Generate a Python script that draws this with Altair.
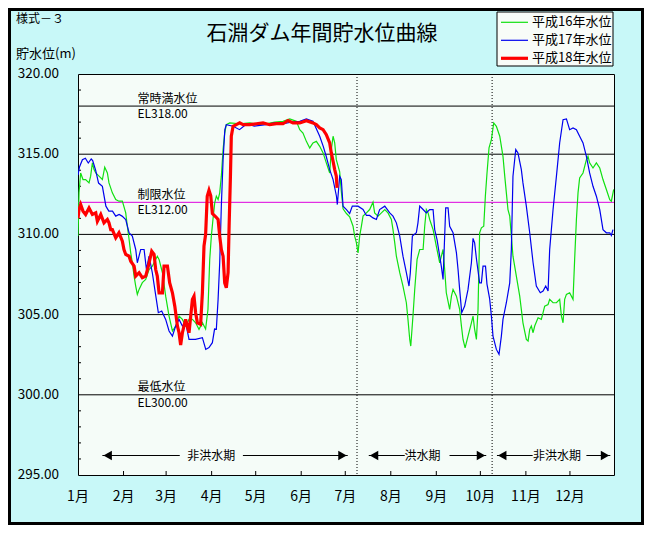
import altair as alt
import pandas as pd

FONT = "Noto Sans CJK JP"

# ---------------- data ----------------
series_names = ["平成16年水位", "平成17年水位", "平成18年水位"]
series_colors = ["#10E010", "#0000EE", "#FF0000"]
series_widths = [1.2, 1.2, 3.2]

h16_day = [0, 0.7, 1.8, 3.4, 5.2, 7.5, 8.6, 9.8, 10.9, 12.1, 14.3, 16.6, 18.2, 20, 21.1, 23.4, 25.7, 27.9,
           30.2, 32.5, 33.6, 34.8, 35.9, 37, 38.2, 39.3, 40.4, 41.6, 43.8, 46.1, 48.4, 50.6, 54, 55.2, 57.5,
           59.7, 62, 64.3, 66.5, 68.8, 71.1, 73.3, 75.6, 77.9, 80.1, 82.4, 84.7, 86.9, 88.5, 89.7, 90.8, 91.9,
           93.1, 94.2, 95.4, 96.5, 97.6, 98.8, 99.9, 101, 103.3, 110, 117, 123, 128, 134, 139.6, 144.2, 148.7,
           151, 153.2, 155.5, 157.8, 160, 162.3, 164.6, 166.9, 169.1, 171.4, 172.5, 173.7, 174.8, 175.9, 178.2,
           179.3, 180.5, 182.8, 185, 187.3, 188.4, 189.6, 190.7, 191.8, 193, 194.1, 196.4, 198.6, 200.9, 202,
           204.3, 206.6, 208.9, 211.1, 213.4, 214.5, 215.7, 216.8, 219.1, 221.3, 223.6, 224.7, 225.9, 226.6,
           228.1, 229.3, 230.9, 232.7, 235, 236.1, 237.2, 238.4, 239.5, 241.8, 244, 246.3, 248.6, 249.7, 250.8,
           253.1, 254.3, 255.4, 257.7, 259.9, 261.1, 262.2, 263.6, 265.6, 267.9, 269, 270.1, 271.3, 272.4,
           273.5, 274.7, 276.3, 277.4, 278.5, 279.9, 281.5, 283.1, 284.9, 287.2, 289.4, 290.6, 291.7, 292.8,
           294, 295.1, 296.2, 298.5, 300.8, 303, 305.3, 306.5, 307.6, 308.7, 309.9, 311, 313.3, 315.5, 316.7,
           317.8, 320.1, 321.2, 323.5, 325.8, 328, 329.2, 330.3, 331.4, 332.6, 334.8, 337.1, 338.2, 339.4,
           340.5, 341.6, 343.9, 346.2, 347.3, 348.4, 350.7, 353, 355.3, 357.5, 359.8, 362.1, 363.2, 364.8]
h16_level = [309.9, 312.6, 313.83, 313.42, 313.42, 313.21, 313.63, 314.46, 314.04, 313.83, 313.63, 313.42,
             314.19, 313.83, 313.21, 312.59, 312.17, 312.07, 312.07, 311.34, 310.51, 309.68, 308.85, 308.23,
             307.4, 306.78, 306.26, 306.57, 306.99, 307.19, 307.81, 308.02, 308.64, 308.44, 307.61, 306.15,
             304.91, 303.98, 304.29, 304.91, 304.7, 304.29, 304.7, 304.7, 304.49, 304.08, 304.5, 304.1, 305.32,
             308.44, 309.89, 310.93, 311.96, 312.38, 312.17, 312.59, 313.63, 315.29, 316.32, 316.84, 316.95,
             316.9, 316.95, 316.85, 316.9, 317.0, 317.05, 317.2, 317.05, 316.53, 316.32, 315.8, 315.39, 315.7,
             315.8, 315.49, 315.08, 314.46, 313.83, 315.29, 316.12, 315.7, 314.66, 313.9, 312.7, 311.6, 311.3,
             311.1, 310.51, 309.89, 309.47, 308.85, 309.89, 310.51, 311.14, 311.34, 311.55, 312.01, 311.34,
             311.14, 311.34, 311.55, 311.34, 310.93, 310.3, 309.47, 308.64, 307.61, 306.78, 305.74, 304.7,
             303.45, 303.04, 304.91, 306.57, 308.44, 309.06, 309.06, 310.51, 311.55, 311.34, 310.93, 310.3,
             309.27, 308.23, 309.06, 307.81, 306.36, 305.32, 306.15, 306.57, 306.15, 305.32, 304.29, 303.45,
             302.93, 303.66, 304.49, 304.91, 304.08, 303.45, 305.32, 310.1, 310.41, 310.51, 312.38, 313.8,
             315.4, 315.91, 316.95, 316.74, 316.12, 314.87, 313.63, 312.59, 311.55, 311.14, 309.89, 308.64,
             307.4, 306.15, 304.49, 303.45, 303.35, 304.08, 304.29, 303.87, 304.29, 304.8, 304.7, 305.12,
             305.53, 305.63, 305.95, 305.74, 305.74, 305.95, 304.91, 304.49, 305.95, 306.26, 306.36, 305.95,
             308.44, 310.93, 312.59, 313.52, 313.83, 314.66, 314.87, 314.46, 314.14, 314.46, 314.14, 313.42,
             312.8, 312.17, 312.07, 312.8]

h17_day = [0, 1, 3, 5, 7, 9, 10, 12, 13, 14, 16.6, 19, 21, 23.5, 25.7, 28, 30, 32.5, 34.8, 37, 39.3, 40.4,
           42.7, 45, 46.6, 48.4, 50.6, 53, 54.7, 57, 59.7, 62, 64.3, 66.5, 68.8, 71.1, 73.3, 75.6, 80, 84.7,
           87, 89.2, 91.5, 93, 94.2, 95.4, 96.5, 97.6, 98.8, 100, 101, 105.6, 110, 115, 120, 128, 134, 140,
           145, 151, 155.5, 160, 164.6, 167, 169, 171.4, 173.7, 176, 176.6, 178.2, 179.3, 180.5, 182.8, 185,
           186.8, 190.7, 194.1, 196.4, 198.6, 200.9, 203.2, 205.4, 208.9, 212.3, 214.5, 216.8, 219.1, 221.3,
           223.6, 225.4, 226.3, 227.7, 230.4, 231.5, 232.7, 235, 237.2, 239.5, 241.8, 242.9, 244.5, 246.3,
           247.4, 248.6, 250.4, 252, 253.1, 255.4, 257.7, 258.8, 259.9, 261.3, 263.3, 265.6, 267.9, 269,
           270.1, 271.3, 273.5, 274.7, 275.8, 277.5, 278.5, 280.3, 281.5, 282.6, 284.9, 286.7, 288.3, 289.4,
           291.7, 294, 295.1, 296.2, 298.1, 299.6, 301.9, 303, 305.3, 307.6, 309.9, 312.1, 314.8, 316.7,
           318.5, 320.1, 321.2, 323.5, 325.8, 328, 330.3, 332.6, 334.8, 337.1, 339.4, 341.6, 343.9, 346.2,
           348.4, 350.7, 353, 355.3, 357.5, 359.8, 362.1, 363.2, 364.3]
h17_level = [313.7, 314.2, 314.66, 314.75, 314.45, 314.7, 314.6, 314.0, 313.6, 313.2, 313.0, 311.76, 311.45,
             311.45, 311.14, 311.24, 311.14, 310.93, 310.1, 309.89, 309.06, 308.23, 309.06, 309.06, 307.81,
             308.64, 307.61, 306.15, 305.12, 305.22, 304.7, 303.98, 303.66, 304.29, 304.7, 304.29, 304.49,
             303.46, 303.46, 303.56, 302.83, 302.94, 303.25, 304.1, 304.08, 305.95, 308.23, 311.76, 314.66,
             316.53, 316.84, 316.74, 316.53, 316.9, 316.75, 316.84, 316.95, 316.9, 317.0, 317.05, 317.2,
             317.05, 316.12, 315.49, 314.87, 314.04, 313.42, 312.38, 311.86, 313.63, 313.42, 311.76, 311.55,
             311.3, 311.76, 311.76, 311.55, 311.18, 311.18, 311.03, 310.93, 311.55, 311.76, 311.34, 311.14,
             310.72, 309.89, 308.64, 307.61, 306.78, 307.61, 309.89, 310.1, 310.72, 311.76, 311.55, 311.34,
             311.55, 311.55, 310.3, 309.68, 308.64, 308.02, 307.19, 311.65, 311.65, 310.51, 310.1, 308.85,
             307.81, 306.57, 305.12, 305.53, 306.57, 308.23, 309.75, 309.47, 308.5, 306.98, 306.98, 308.02,
             308.02, 306.9, 306.0, 304.91, 303.66, 302.83, 302.52, 303.66, 304.7, 305.74, 306.98, 309.06,
             313.63, 315.29, 315.08, 314.04, 313.21, 311.76, 310.1, 308.23, 306.78, 306.36, 306.47, 306.78,
             306.47, 309.06, 311.55, 313.63, 315.7, 317.15, 317.2, 316.53, 316.64, 316.53, 316.12, 315.7,
             314.87, 313.83, 313.0, 312.38, 311.55, 310.3, 310.1, 310.1, 309.93, 310.3]

h18_day = [0, 0.7, 1.8, 3.4, 5.2, 7.5, 9.8, 12.1, 13.2, 15.5, 17.7, 20, 21.1, 22.3, 23.4, 25.7, 27.9, 30.2,
           31.3, 32.5, 34.8, 35.9, 38.2, 39.3, 41.6, 43.8, 46.1, 47.9, 50.2, 51.8, 52.9, 54, 55.2, 57.5, 58.6,
           60.9, 62.4, 64.3, 65.9, 67.7, 68.8, 69.9, 71.1, 72.2, 73.3, 75.6, 77.9, 79, 80.1, 81.3, 83.5, 84.7,
           85.8, 86.9, 88, 89.2, 90.4, 91.5, 93.8, 95.4, 96.5, 97.6, 98.8, 99.9, 101, 102.2, 102.9, 103.8,
           104.4, 105.6, 107.8, 110.1, 112.4, 116.9, 121.5, 126, 130.5, 135.1, 139.6, 143, 146.4, 151, 155.5,
           160, 162.3, 164.6, 166.9, 169.1, 171.4, 172.5, 173.7, 174.8, 175.9, 176.4]
h18_level = [311.0, 311.55, 311.86, 311.45, 311.24, 311.65, 311.24, 311.34, 310.82, 311.24, 310.72, 310.93,
             310.72, 310.3, 310.3, 309.79, 310.1, 309.58, 309.06, 308.75, 308.64, 308.33, 308.02, 307.4,
             307.61, 307.3, 307.4, 308.02, 308.95, 308.75, 307.81, 307.4, 306.36, 306.36, 308.02, 308.02,
             306.99, 306.36, 305.53, 304.29, 303.87, 303.1, 303.87, 304.29, 304.7, 303.87, 305.95, 306.15,
             305.12, 304.49, 304.4, 306.36, 309.27, 309.99, 312.38, 312.75, 312.4, 311.3, 311.1, 310.93,
             309.89, 309.06, 308.64, 306.98, 306.67, 307.61, 310.51, 313.63, 316.12, 316.74, 316.84, 316.95,
             316.84, 316.84, 316.9, 316.95, 316.84, 316.9, 316.9, 317.1, 316.95, 316.95, 317.09, 316.95,
             316.84, 316.64, 316.53, 316.22, 315.7, 315.08, 314.56, 314.04, 313.63, 312.9]

month_days = [0, 31, 60, 91, 121, 152, 182, 213, 244, 274, 305, 335]
month_labels = ["1月", "2月", "3月", "4月", "5月", "6月", "7月", "8月", "9月", "10月", "11月", "12月"]

y_label_levels = [320, 315, 310, 305, 300, 295]
y_minor_levels = [296, 297, 298, 299, 301, 302, 303, 304, 306, 307, 308, 309, 311, 313, 314, 316, 317, 319]

grid_levels = [318, 315, 312, 310, 305, 300]
grid_colors = ["black", "black", "#DD00DD", "black", "black", "black"]

ref_levels = [318, 312, 300]
ref_names = ["常時満水位", "制限水位", "最低水位"]
ref_el = ["EL318.00", "EL312.00", "EL300.00"]

period_bounds = [190, 282]
period_labels = ["非洪水期", "洪水期", "非洪水期"]
period_start = [16.6, 198, 285.3]
period_end = [183.7, 278, 362.5]
period_gap_a = [69.3, 222.5, 309.6]
period_gap_b = [112.3, 253, 346.2]
period_center = [90.7, 234.6, 326.2]

# ---------------- scales ----------------
W, H = 536, 401
xs = alt.Scale(domain=[0, 365], nice=False, zero=False)
ys = alt.Scale(domain=[295, 320], nice=False, zero=False)


def X(f):
    return alt.X(f, type="quantitative", scale=xs, axis=None)


def Y(f):
    return alt.Y(f, type="quantitative", scale=ys, axis=None)


one = alt.Data(values=[{"a": 1}])

layers = []

# grid / reference rules
df_grid = pd.DataFrame({"level": grid_levels, "col": grid_colors})
layers.append(alt.Chart(df_grid).mark_rule(strokeWidth=1).encode(
    y=Y("level"), color=alt.Color("col:N", scale=None)))

# inward minor y ticks
df_minor = pd.DataFrame({"level": y_minor_levels})
layers.append(alt.Chart(df_minor).mark_rule(color="black", strokeWidth=1).encode(
    y=Y("level"), x=alt.value(0), x2=alt.value(3)))

# inward x ticks
df_month = pd.DataFrame({"day": month_days, "label": month_labels})
layers.append(alt.Chart(df_month[df_month.day > 0]).mark_rule(color="black", strokeWidth=1).encode(
    x=X("day"), y=alt.value(H - 4), y2=alt.value(H)))

# dotted period boundaries
df_bounds = pd.DataFrame({"day": period_bounds})
layers.append(alt.Chart(df_bounds).mark_rule(color="black", strokeWidth=1, strokeDash=[1, 2]).encode(
    x=X("day")))

# series lines
for name, d, v, c, w in zip(series_names, [h16_day, h17_day, h18_day],
                            [h16_level, h17_level, h18_level], series_colors, series_widths):
    df = pd.DataFrame({"day": d, "level": v})
    layers.append(alt.Chart(df).mark_line(color=c, strokeWidth=w, clip=True).encode(
        x=X("day"), y=Y("level")))

# y labels
df_yl = pd.DataFrame({"level": y_label_levels})
layers.append(alt.Chart(df_yl).mark_text(align="right", baseline="middle", fontSize=13.5, font=FONT,
                                         color="black").encode(
    y=Y("level"), x=alt.value(-19), text=alt.Text("level:Q", format=".2f")))

# x labels
layers.append(alt.Chart(df_month).mark_text(align="center", baseline="middle", fontSize=14, font=FONT,
                                            color="black").encode(
    x=X("day"), y=alt.value(H + 22), text="label:N"))

# reference annotations
df_ref = pd.DataFrame({"level": ref_levels, "name": ref_names, "el": ref_el})
layers.append(alt.Chart(df_ref).mark_text(align="left", baseline="middle", fontSize=12, font=FONT,
                                          dy=-7.5, color="black").encode(
    y=Y("level"), x=alt.value(59.5), text="name:N"))
layers.append(alt.Chart(df_ref).mark_text(align="left", baseline="middle", fontSize=12, font=FONT,
                                          dy=8, color="black").encode(
    y=Y("level"), x=alt.value(59.5), text="el:N"))

# period arrows
PY = 381.5
seg_a = period_start + period_gap_b
seg_b = period_gap_a + period_end
df_seg = pd.DataFrame({"a": seg_a, "b": seg_b})
layers.append(alt.Chart(df_seg).mark_rule(color="black", strokeWidth=1).encode(
    x=X("a"), x2=alt.X2("b"), y=alt.value(PY)))
df_tl = pd.DataFrame({"day": [s + 3.6 for s in period_start]})
layers.append(alt.Chart(df_tl).mark_point(shape="triangle-left", filled=True, size=95, color="black",
                                          opacity=1).encode(x=X("day"), y=alt.value(PY)))
df_tr = pd.DataFrame({"day": [e - 3.6 for e in period_end]})
layers.append(alt.Chart(df_tr).mark_point(shape="triangle-right", filled=True, size=95, color="black",
                                          opacity=1).encode(x=X("day"), y=alt.value(PY)))
df_pl = pd.DataFrame({"day": period_center, "label": period_labels})
layers.append(alt.Chart(df_pl).mark_text(align="center", baseline="middle", fontSize=12, font=FONT,
                                         color="black").encode(
    x=X("day"), y=alt.value(PY), text="label:N"))

# titles
layers.append(alt.Chart(one).mark_text(text="石淵ダム年間貯水位曲線", fontSize=21, font=FONT,
                                       align="center", baseline="middle", color="black").encode(
    x=alt.value(244), y=alt.value(-40)))
layers.append(alt.Chart(one).mark_text(text="様式－３", fontSize=12, font=FONT,
                                       align="left", baseline="middle", color="black").encode(
    x=alt.value(-62), y=alt.value(-55)))
layers.append(alt.Chart(one).mark_text(text="貯水位(m)", fontSize=13, font=FONT,
                                       align="left", baseline="middle", color="black").encode(
    x=alt.value(-62), y=alt.value(-20)))

# legend
layers.append(alt.Chart(one).mark_rect(fill="#F8FCF8", stroke="black", strokeWidth=1).encode(
    x=alt.value(419), x2=alt.value(535), y=alt.value(-62), y2=alt.value(-8)))
for i, (name, c, w) in enumerate(zip(series_names, series_colors, series_widths)):
    py = -51.7 + 18 * i
    layers.append(alt.Chart(one).mark_rule(color=c, strokeWidth=w).encode(
        x=alt.value(423), x2=alt.value(450), y=alt.value(py)))
    layers.append(alt.Chart(one).mark_text(text=name, fontSize=13, font=FONT, align="left",
                                           baseline="middle", color="black").encode(
        x=alt.value(454), y=alt.value(py)))

# outer frame
layers.append(alt.Chart(one).mark_rect(fillOpacity=0, stroke="black", strokeWidth=3).encode(
    x=alt.value(-68.5), x2=alt.value(564.5), y=alt.value(-64.5), y2=alt.value(449.5)))

chart = alt.layer(*layers).properties(
    width=W, height=H,
    background="#C8F8F8",
    padding={"left": 70, "top": 66, "right": 30, "bottom": 50},
    autosize=alt.AutoSizeParams(type="none"),
).configure_view(fill="#F5FCF8", stroke="black", strokeWidth=1)

chart.save("out.html", embed_options={"renderer": "svg", "actions": False})
